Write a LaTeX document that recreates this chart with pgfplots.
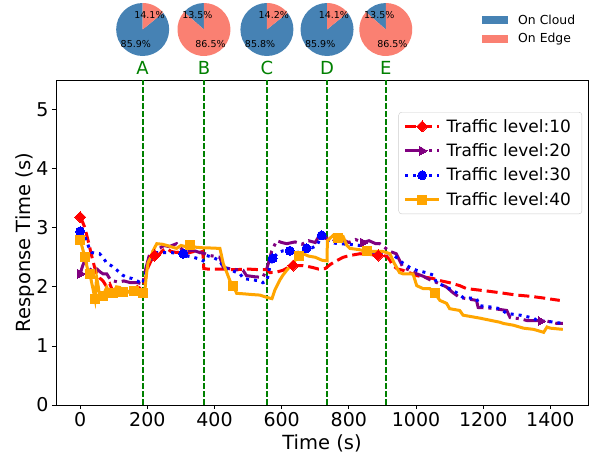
\documentclass[border=0pt]{standalone}
\usepackage{fontspec}
\setmainfont{DejaVu Sans}
\usepackage{pgfplots}
\pgfplotsset{compat=1.18}
\definecolor{mred}{HTML}{FF0000}
\definecolor{mpurple}{HTML}{800080}
\definecolor{mblue}{HTML}{0000FF}
\definecolor{morange}{HTML}{FFA500}
\definecolor{mgreen}{HTML}{008000}
\definecolor{cloud}{HTML}{4682B4}
\definecolor{edge}{HTML}{FA8072}
\newcommand{\pie}[4]{%
 \begin{scope}[shift={(#1)}, yshift=50.5pt]
   \fill[cloud] (0,0) -- (90:26.5pt) arc[start angle=90, delta angle={3.6*#2}, radius=26.5pt] -- cycle;
   \fill[edge] (0,0) -- ({90+3.6*#2}:26.5pt) arc[start angle={90+3.6*#2}, end angle=450, radius=26.5pt] -- cycle;
   \node[font=\fontsize{9.5}{11}\selectfont, inner sep=0pt] at ({90+1.8*#2}:15.9pt) {#2\%};
   \node[font=\fontsize{9.5}{11}\selectfont, inner sep=0pt] at ({90+3.6*#2+1.8*#3}:15.9pt) {#3\%};
   \node[text=mgreen, font=\fontsize{18}{20}\selectfont, inner sep=0pt] at (0,-38.3pt) {#4};
 \end{scope}}
\pgfplotsset{
  redline/.style={mred, line width=3pt, dash pattern=on 11pt off 5pt},
  purpleline/.style={mpurple, line width=3pt, dash pattern=on 19pt off 5pt on 3pt off 5pt},
  blueline/.style={mblue, line width=3pt, dash pattern=on 3pt off 5pt},
  orangeline/.style={morange, line width=3pt, solid},
  redmark/.style={mark=square*, mark size=3.9pt, mark options={rotate=45, fill=mred, draw=mred, line width=0pt, solid}},
  purplemark/.style={mark=triangle*, mark size=5pt, mark options={rotate=-90, fill=mpurple, draw=mpurple, line width=0pt, solid}},
  bluemark/.style={mark=*, mark size=4.5pt, mark options={fill=mblue, draw=mblue, line width=0pt, solid}},
  orangemark/.style={mark=square*, mark size=4.5pt, mark options={fill=morange, draw=morange, line width=0pt, solid}},
  vline/.style={mgreen, line width=1.7pt, dash pattern=on 5.5pt off 2.5pt, forget plot},
}
\begin{document}
\begin{tikzpicture}
\path[use as bounding box] (-56pt,-53pt) rectangle (539pt,405pt);
\begin{axis}[
  scale only axis, width=532pt, height=325pt,
  xmin=-72, xmax=1512, ymin=0, ymax=5.5,
  xtick={0,200,...,1400}, ytick={0,1,...,5},
  tick align=outside, xtick pos=left, ytick pos=left,
  major tick length=4pt,
  tick style={black, line width=0.8pt},
  axis line style={line width=0.8pt},
  ticklabel style={font=\fontsize{19}{22}\selectfont},
  /pgf/number format/assume math mode=true,
  /pgf/number format/set thousands separator={},
  xlabel={Time (s)}, ylabel={Response Time (s)},
  label style={font=\fontsize{19.5}{23}\selectfont},
  xlabel style={at={(axis description cs:0.5,-0.117)}, anchor=center},
  ylabel style={at={(axis description cs:-0.058,0.5)}, anchor=center},
  legend style={at={(axis description cs:0.989,0.9015)}, anchor=north east,
    font=\fontsize{17}{20}\selectfont, draw=black!20, rounded corners=3pt,
    row sep=6pt, inner sep=5pt, nodes={inner xsep=6pt}},
  legend cell align=left,
  every mark/.append style={sharp corners, solid},
  legend image code/.code={\draw[sharp corners, mark repeat=2, mark phase=2] plot coordinates {(0pt,0pt) (17pt,0pt) (34pt,0pt)};},
]
% vertical region lines
\addplot[vline] coordinates {(186,0) (186,5.5)};
\addplot[vline] coordinates {(368.5,0) (368.5,5.5)};
\addplot[vline] coordinates {(556,0) (556,5.5)};
\addplot[vline] coordinates {(735,0) (735,5.5)};
\addplot[vline] coordinates {(910,0) (910,5.5)};

% Traffic 10
\addplot[redline, forget plot] coordinates {
(0,3.18) (7,3.1) (14,3.0) (25,2.75) (34,2.53) (42,2.35) (49,2.22) (58,2.15) (68,2.1) (79,2.0) (88,2.05) (97,1.93) (108,1.95) (118,1.89) (128,1.95) (140,1.92) (150,1.98) (160,1.95) (170,2.0) (180,1.97) (186,2.0) (193,2.1) (202,2.33) (212,2.45) (222,2.53) (235,2.55) (247,2.62) (258,2.65) (270,2.6) (288,2.58) (300,2.6) (320,2.57) (340,2.6) (355,2.58) (365,2.6) (368,2.31) (380,2.3) (420,2.3) (460,2.29) (500,2.3) (535,2.29) (556,2.29) (565,2.24) (585,2.25) (604,2.28) (620,2.33) (634,2.36) (664,2.36) (690,2.33) (710,2.3) (730,2.31) (745,2.38) (763,2.44) (783,2.5) (803,2.53) (833,2.56) (860,2.55) (887,2.53) (912,2.52) (922,2.45) (931,2.36) (945,2.3) (961,2.28) (980,2.24) (1002,2.19) (1030,2.16) (1051,2.14) (1075,2.1) (1100,2.07) (1130,2.02) (1150,1.97) (1180,1.95) (1210,1.93) (1250,1.9) (1300,1.86) (1340,1.84) (1380,1.81) (1428,1.77)};

% Traffic 20
\addplot[purpleline, forget plot] coordinates {
(0,2.22) (7,2.35) (14,2.45) (22,2.35) (29,2.3) (40,2.25) (50,2.3) (60,2.25) (68,2.22) (79,2.22) (90,2.12) (98,2.1) (115,2.08) (130,2.1) (150,2.07) (170,2.07) (186,2.05) (195,2.3) (207,2.56) (220,2.62) (238,2.66) (250,2.7) (265,2.68) (287,2.73) (300,2.65) (318,2.6) (335,2.62) (356,2.58) (367,2.57) (386,2.53) (416,2.5) (426,2.33) (450,2.3) (485,2.28) (495,2.19) (520,2.17) (544,2.16) (556,2.31) (570,2.6) (585,2.78) (600,2.75) (615,2.73) (640,2.76) (660,2.72) (680,2.78) (700,2.75) (710,2.85) (720,2.9) (730,2.82) (743,2.83) (760,2.78) (780,2.8) (800,2.75) (820,2.8) (842,2.75) (860,2.78) (880,2.73) (892,2.73) (910,2.65) (922,2.6) (941,2.56) (961,2.33) (981,2.28) (1002,2.22) (1021,2.18) (1041,2.12) (1051,2.1) (1070,2.05) (1090,2.0) (1110,1.9) (1130,1.82) (1160,1.79) (1180,1.77) (1185,1.65) (1220,1.64) (1270,1.6) (1280,1.48) (1310,1.46) (1330,1.43) (1360,1.43) (1390,1.42) (1420,1.38) (1437,1.38)};

% Traffic 30
\addplot[blueline, forget plot] coordinates {
(0,2.94) (10,2.9) (19,2.78) (27,2.65) (35,2.58) (45,2.57) (58,2.56) (70,2.48) (79,2.4) (95,2.35) (110,2.28) (125,2.2) (140,2.16) (155,2.14) (170,2.1) (186,2.05) (194,2.2) (202,2.39) (215,2.5) (228,2.58) (250,2.58) (267,2.58) (290,2.57) (307,2.56) (320,2.52) (337,2.5) (355,2.47) (366,2.44) (376,2.53) (395,2.5) (416,2.44) (426,2.33) (450,2.28) (476,2.22) (486,2.14) (510,2.12) (535,2.1) (544,2.07) (556,2.1) (565,2.35) (573,2.48) (590,2.58) (604,2.61) (624,2.61) (650,2.58) (674,2.65) (690,2.66) (705,2.7) (719,2.87) (730,2.82) (743,2.75) (770,2.73) (800,2.72) (833,2.7) (853,2.61) (880,2.58) (912,2.56) (930,2.55) (941,2.5) (961,2.4) (981,2.33) (1001,2.28) (1030,2.24) (1051,2.2) (1061,2.07) (1090,2.0) (1121,1.9) (1140,1.82) (1180,1.8) (1190,1.68) (1220,1.66) (1250,1.63) (1270,1.55) (1310,1.52) (1350,1.47) (1360,1.43) (1400,1.41) (1437,1.38)};

% Traffic 40
\addplot[orangeline, forget plot] coordinates {
(0,2.8) (7,2.65) (14,2.5) (22,2.3) (29,2.22) (35,2.05) (39,1.94) (44,1.8) (49,2.16) (54,2.0) (58,1.82) (68,1.85) (79,1.99) (88,1.9) (98,1.89) (108,2.0) (118,1.99) (128,1.92) (138,1.94) (150,1.89) (160,1.93) (170,1.9) (180,1.92) (186,1.89) (192,1.89) (197,2.2) (202,2.41) (210,2.5) (217,2.61) (228,2.73) (245,2.72) (258,2.7) (275,2.67) (287,2.65) (300,2.7) (315,2.68) (327,2.7) (345,2.67) (366,2.66) (376,2.66) (416,2.65) (420,2.55) (426,2.39) (436,2.25) (446,2.1) (455,2.02) (466,1.89) (490,1.88) (510,1.87) (535,1.86) (556,1.82) (571,1.8) (580,1.95) (594,2.11) (604,2.2) (615,2.28) (630,2.38) (645,2.48) (653,2.53) (664,2.56) (680,2.52) (700,2.5) (720,2.45) (735,2.44) (736,2.78) (753,2.87) (768,2.83) (783,2.85) (794,2.7) (803,2.65) (830,2.63) (853,2.6) (880,2.6) (900,2.6) (912,2.58) (922,2.56) (935,2.4) (951,2.24) (961,2.22) (991,2.22) (1002,2.02) (1021,1.97) (1041,1.97) (1056,1.89) (1071,1.77) (1091,1.72) (1100,1.63) (1130,1.6) (1140,1.52) (1180,1.48) (1190,1.47) (1250,1.4) (1260,1.38) (1290,1.35) (1320,1.3) (1350,1.28) (1380,1.23) (1390,1.32) (1400,1.3) (1437,1.28)};

% markers
\addplot[only marks, forget plot, redmark] coordinates {(0,3.18) (222,2.53) (634,2.36) (887,2.53)};
\addplot[only marks, forget plot, purplemark] coordinates {(0,2.22) (842,2.75) (1371,1.42)};
\addplot[only marks, forget plot, bluemark] coordinates {(0,2.94) (307,2.56) (573,2.48) (624,2.61) (674,2.65) (719,2.87)};
\addplot[only marks, forget plot, orangemark] coordinates {(0,2.8) (14,2.5) (29,2.22) (44,1.8) (68,1.85) (98,1.89) (128,1.92) (160,1.93) (186,1.89) (327,2.7) (455,2.02) (653,2.53) (768,2.83) (853,2.6) (1056,1.89)};

\addlegendimage{redline, redmark}
\addlegendentry{Traffic level:10}
\addlegendimage{purpleline, purplemark}
\addlegendentry{Traffic level:20}
\addlegendimage{blueline, bluemark}
\addlegendentry{Traffic level:30}
\addlegendimage{orangeline, orangemark}
\addlegendentry{Traffic level:40}

\coordinate (pA) at (axis cs:186,5.5);
\coordinate (pB) at (axis cs:368.5,5.5);
\coordinate (pC) at (axis cs:556,5.5);
\coordinate (pD) at (axis cs:735,5.5);
\coordinate (pE) at (axis cs:910,5.5);
\end{axis}
\pie{pA}{85.9}{14.1}{A}
\pie{pB}{13.5}{86.5}{B}
\pie{pC}{85.8}{14.2}{C}
\pie{pD}{85.9}{14.1}{D}
\pie{pE}{13.5}{86.5}{E}
\fill[cloud] (426pt,381pt) rectangle (452pt,389pt);
\fill[edge] (426pt,362pt) rectangle (452pt,370pt);
\node[anchor=west, font=\fontsize{12.4}{14}\selectfont, inner sep=0pt] at (462pt,385pt) {On Cloud};
\node[anchor=west, font=\fontsize{12.4}{14}\selectfont, inner sep=0pt] at (462pt,366pt) {On Edge};
\end{tikzpicture}
\end{document}
